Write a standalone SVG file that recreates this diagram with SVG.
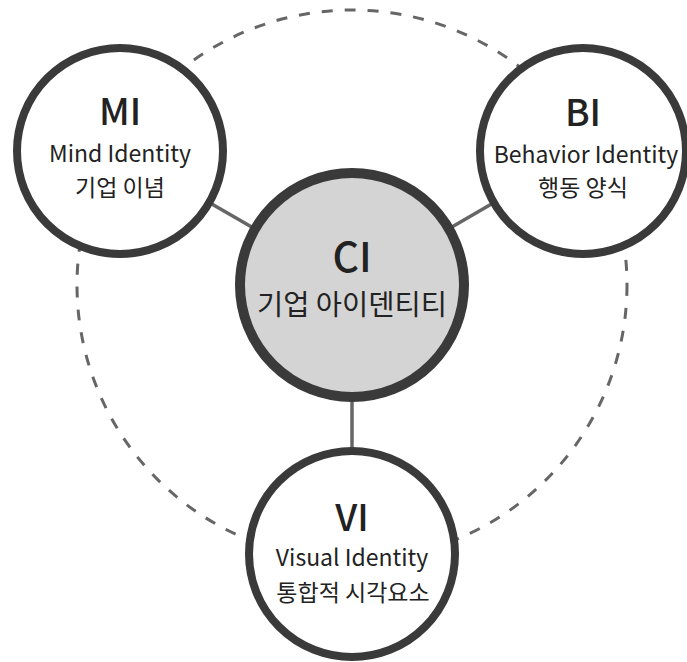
<svg xmlns="http://www.w3.org/2000/svg" width="687" height="662" viewBox="0 0 687 662">
  <style>
    .ring { fill: none; stroke: #666; stroke-width: 3; stroke-dasharray: 11 12; }
    .link { stroke: #666; stroke-width: 3.5; }
    .node { fill: #fff; stroke: #3a3a3a; stroke-width: 8; }
    .core { fill: #d4d4d4; stroke: #3a3a3a; stroke-width: 10; }
    text { font-family: "Noto Sans CJK KR", "Noto Sans", sans-serif; fill: #222; text-anchor: middle; }
    .abbr { font-size: 37px; font-weight: 500; }
    .en { font-size: 23px; }
    .ko { font-size: 23px; }
    .core-abbr { font-size: 41px; font-weight: 500; }
    .core-ko { font-size: 28.5px; }
  </style>

  <!-- dashed orbit around the core -->
  <circle class="ring" cx="352" cy="285" r="275"/>

  <g id="connectors">
    <line class="link" x1="352" y1="285" x2="120" y2="151"/>
    <line class="link" x1="352" y1="285" x2="583" y2="151"/>
    <line class="link" x1="352" y1="285" x2="352" y2="554"/>
  </g>

  <g id="mi">
    <circle class="node" cx="120" cy="151" r="103"/>
    <text class="abbr" x="120" y="125">MI</text>
    <text class="en" x="120" y="162">Mind Identity</text>
    <text class="ko" x="120" y="196">기업 이념</text>
  </g>

  <g id="bi">
    <circle class="node" cx="583" cy="151" r="103"/>
    <text class="abbr" x="583" y="126">BI</text>
    <text class="en" x="586" y="163">Behavior Identity</text>
    <text class="ko" x="583" y="196">행동 양식</text>
  </g>

  <g id="ci">
    <circle class="core" cx="352" cy="285" r="112"/>
    <text class="core-abbr" x="352" y="272">CI</text>
    <text class="core-ko" x="352" y="315">기업 아이덴티티</text>
  </g>

  <g id="vi">
    <circle class="node" cx="352" cy="554" r="103"/>
    <text class="abbr" x="352" y="531">VI</text>
    <text class="en" x="352" y="566">Visual Identity</text>
    <text class="ko" x="353" y="601">통합적 시각요소</text>
  </g>
</svg>
